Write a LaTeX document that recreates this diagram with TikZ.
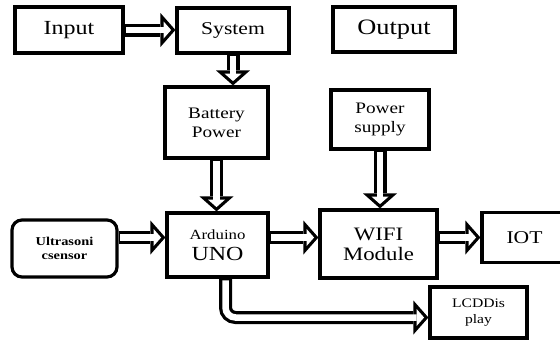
\documentclass[tikz,border=0pt]{standalone}
\usepackage{fontspec}
\setmainfont{Liberation Serif}[FakeStretch=1.2]
\usetikzlibrary{arrows.meta}

\tikzset{
  blok/.style={draw, line width=3.2pt, inner sep=0pt, align=center},
  pijl/.style={draw=white, line width=6.5pt, shorten <=1.8pt, shorten >=4.3pt,
    -{Triangle[length=7.5pt, width=17pt, line width=0pt]},
    preaction={draw=black, line width=13pt, shorten <=0pt, shorten >=0pt,
      -{Triangle[length=15pt, width=34pt, line width=0pt]}}}
}

\begin{document}
\begin{tikzpicture}[x=1pt, y=-1pt]
      \useasboundingbox (0,0) rectangle (560,341);

        % Input en System
        \node[blok, minimum width=108pt, minimum height=46pt,
          font=\fontsize{20}{22}\selectfont] (input) at (69,30) {Input};
        \node[blok, minimum width=112pt, minimum height=45pt,
          font=\fontsize{18}{20}\selectfont] (system) at (233,30.5) {System};

        % Output
        \node[blok, minimum width=122pt, minimum height=45pt,
          font=\fontsize{22}{24}\selectfont] (output) at (394,29.5) {Output};

        % Battery Power
        \node[blok, minimum width=103pt, minimum height=71pt,
          font=\fontsize{16}{19}\selectfont] (battery) at (216.5,122.5) {Battery\\Power};

        % Power supply
        \node[blok, minimum width=98pt, minimum height=59pt,
          font=\fontsize{16}{19}\selectfont] (supply) at (380,119.5) {Power\\supply};

        % Ultrasone sensor
        \node[blok, rounded corners=10pt, minimum width=105pt, minimum height=57pt,
          font=\bfseries\fontsize{12}{14}\selectfont] (sensor) at (64.5,248.5) {Ultrasoni\\csensor};

        % Arduino UNO
        \node[blok, minimum width=101pt, minimum height=64pt,
          font=\fontsize{20}{21}\selectfont] (arduino) at (217.5,245)
          {{\fontsize{14}{16}\selectfont Arduino}\\UNO};

        % WIFI Module
        \node[blok, minimum width=117pt, minimum height=68pt,
          font=\fontsize{19}{20}\selectfont] (wifi) at (378.5,244) {WIFI\\Module};

        % IOT
        \node[blok, minimum width=85pt, minimum height=50pt,
          font=\fontsize{18}{20}\selectfont] (iot) at (524.5,237.5) {IOT};

        % LCD Display
        \node[blok, minimum width=97pt, minimum height=51pt,
          font=\fontsize{13}{16}\selectfont] (lcd) at (478.5,312.5) {LCDDis\\play};

        % Pijlen
        \draw[pijl] (input.east) -- (input.east -| system.west);
        \draw[pijl] (system.south) -- (system.south |- battery.north);
        \draw[pijl] (battery.south) -- (battery.south |- arduino.north);
        \draw[pijl] (supply.south) -- (supply.south |- wifi.north);
        \draw[pijl] (sensor.east |- iot) -- (arduino.west |- iot);
        \draw[pijl] (arduino.east |- iot) -- (wifi.west |- iot);
        \draw[pijl] (wifi.east |- iot) -- (iot.west);
        \draw[pijl, rounded corners=10pt]
          ([xshift=8pt]arduino.south) |- ([yshift=-5pt]lcd.west);

      \end{tikzpicture}
\end{document}
